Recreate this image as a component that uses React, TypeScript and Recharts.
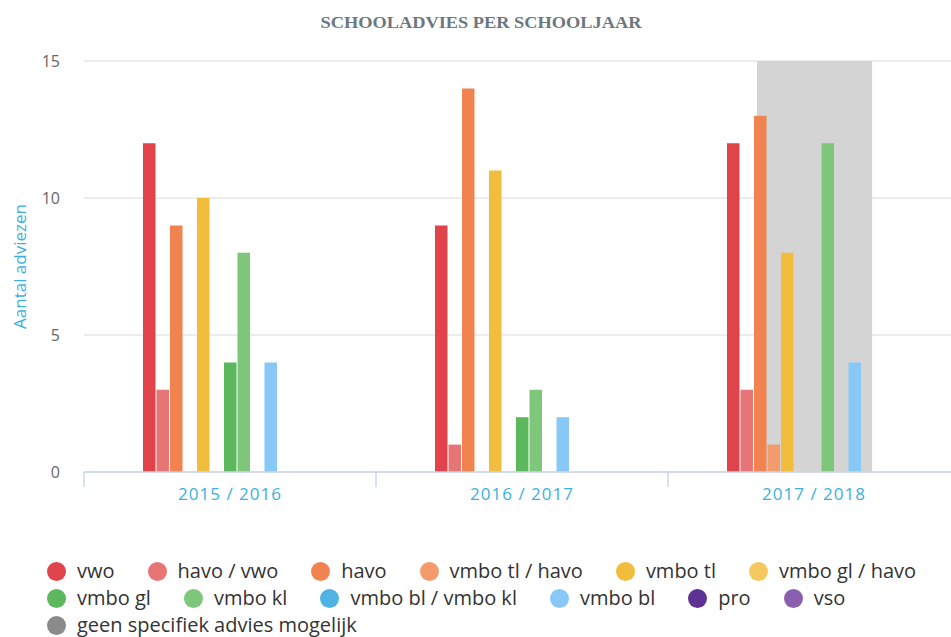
import React from 'react';
import { BarChart, Bar, XAxis, YAxis, CartesianGrid, ReferenceArea } from 'recharts';

const categories = ['2015 / 2016', '2016 / 2017', '2017 / 2018'];

const vwo = [12, 9, 12];
const havoVwo = [3, 1, 3];
const havo = [9, 14, 13];
const vmboTlHavo = [0, 0, 1];
const vmboTl = [10, 11, 8];
const vmboGlHavo = [0, 0, 0];
const vmboGl = [4, 2, 0];
const vmboKl = [8, 3, 12];
const vmboBlVmboKl = [0, 0, 0];
const vmboBl = [4, 2, 4];
const pro = [0, 0, 0];
const vso = [0, 0, 0];
const geen = [0, 0, 0];

const yTicks = [0, 5, 10, 15];

// highlighted band on the x axis, in category units (0..3)
const bandStart = 2.305;
const bandEnd = 2.699;

const series = [
  { key: 'vwo', name: 'vwo', values: vwo, color: '#e0434a' },
  { key: 'havoVwo', name: 'havo / vwo', values: havoVwo, color: '#e87575' },
  { key: 'havo', name: 'havo', values: havo, color: '#f0834f' },
  { key: 'vmboTlHavo', name: 'vmbo tl / havo', values: vmboTlHavo, color: '#f39b6d' },
  { key: 'vmboTl', name: 'vmbo tl', values: vmboTl, color: '#f2bc3c' },
  { key: 'vmboGlHavo', name: 'vmbo gl / havo', values: vmboGlHavo, color: '#f5c95e' },
  { key: 'vmboGl', name: 'vmbo gl', values: vmboGl, color: '#5cb85c' },
  { key: 'vmboKl', name: 'vmbo kl', values: vmboKl, color: '#7dc67a' },
  { key: 'vmboBlVmboKl', name: 'vmbo bl / vmbo kl', values: vmboBlVmboKl, color: '#4fb3e3' },
  { key: 'vmboBl', name: 'vmbo bl', values: vmboBl, color: '#87c8f7' },
  { key: 'pro', name: 'pro', values: pro, color: '#5e3295' },
  { key: 'vso', name: 'vso', values: vso, color: '#8a5fb0' },
  { key: 'geen', name: 'geen specifiek advies mogelijk', values: geen, color: '#8a8a8a' },
];

const data = categories.map((cat, i) => {
  const row: Record<string, string | number> = { category: cat, pos: i + 0.5 };
  series.forEach((s) => {
    row[s.key] = s.values[i];
  });
  return row;
});

const FONT = '"Open Sans", "Noto Sans", sans-serif';

const XTick = (props: any) => {
  const { x, y, payload, width } = props;
  const band = width / categories.length;
  return (
    <g>
      <line x1={x - band / 2} y1={y} x2={x - band / 2} y2={y + 15} stroke="#ccd6eb" strokeWidth={1.5} />
      <text
        x={x}
        y={y + 28}
        textAnchor="middle"
        fill="#3bb0e0"
        fontSize={17}
        letterSpacing={1}
        fontFamily={FONT}
      >
        {payload.value}
      </text>
    </g>
  );
};

const YLabel = (props: any) => {
  const { viewBox } = props;
  const cx = viewBox.x + 19;
  const cy = viewBox.y + viewBox.height / 2;
  return (
    <text
      x={cx}
      y={cy}
      transform={`rotate(-90, ${cx}, ${cy})`}
      textAnchor="middle"
      dominantBaseline="central"
      fill="#3bb0e0"
      fontSize={17}
      fontFamily={FONT}
    >
      Aantal adviezen
    </text>
  );
};

export default function App() {
  return (
    <div
      style={{
        position: 'absolute',
        left: 0,
        top: 0,
        width: 951,
        height: 637,
        overflow: 'hidden',
        background: '#fff',
      }}
    >
      <svg width={951} height={40} style={{ position: 'absolute', left: 0, top: 0 }}>
        <text
          x={481}
          y={28}
          textAnchor="middle"
          fill="#6c7780"
          fontSize={16}
          fontWeight="bold"
          fontFamily='"Liberation Serif", "DejaVu Serif", serif'
          textLength={321}
          lengthAdjust="spacingAndGlyphs"
        >
          SCHOOLADVIES PER SCHOOLJAAR
        </text>
      </svg>
      <div style={{ position: 'absolute', left: 0, top: 0 }}>
        <BarChart
          width={960}
          height={530}
          data={data}
          margin={{ top: 61, right: 0, left: 0, bottom: 0 }}
          barSize={12.5}
          barGap={1}
        >
          <CartesianGrid horizontal vertical={false} stroke="#e6e6e6" strokeWidth={1.5} />
          <XAxis
            dataKey="category"
            axisLine={{ stroke: '#ccd6eb', strokeWidth: 1.5 }}
            tickLine={false}
            tickSize={0}
            tickMargin={0}
            interval={0}
            tick={<XTick />}
            height={58}
          />
          <XAxis
            xAxisId="band"
            dataKey="pos"
            type="number"
            domain={[0, 3]}
            allowDataOverflow
            hide
          />
          <YAxis
            domain={[0, 15]}
            ticks={yTicks}
            width={84}
            axisLine={false}
            tickLine={false}
            tickSize={6}
            tickMargin={18}
            tick={{ fill: '#666', fontSize: 16, fontFamily: FONT }}
            label={<YLabel />}
          />
          <ReferenceArea
            xAxisId="band"
            x1={bandStart}
            x2={bandEnd}
            y1={0}
            y2={15}
            fill="#d4d4d4"
            fillOpacity={1}
            stroke="none"
            ifOverflow="visible"
          />
          {series.map((s) => (
            <Bar
              key={s.key}
              dataKey={s.key}
              name={s.name}
              fill={s.color}
              isAnimationActive={false}
            />
          ))}
        </BarChart>
      </div>
      <div
        style={{
          position: 'absolute',
          left: 47,
          top: 560,
          width: 900,
          display: 'flex',
          flexWrap: 'wrap',
          columnGap: 33,
          rowGap: 5,
          fontFamily: FONT,
          fontSize: 20,
          color: '#333',
          lineHeight: '22px',
        }}
      >
        {series.map((s) => (
          <div key={s.key} style={{ display: 'flex', alignItems: 'center', whiteSpace: 'nowrap' }}>
            <span
              style={{
                display: 'inline-block',
                flexShrink: 0,
                width: 19,
                height: 19,
                borderRadius: '50%',
                background: s.color,
                marginRight: 11,
              }}
            />
            <span>{s.name}</span>
          </div>
        ))}
      </div>
    </div>
  );
}
